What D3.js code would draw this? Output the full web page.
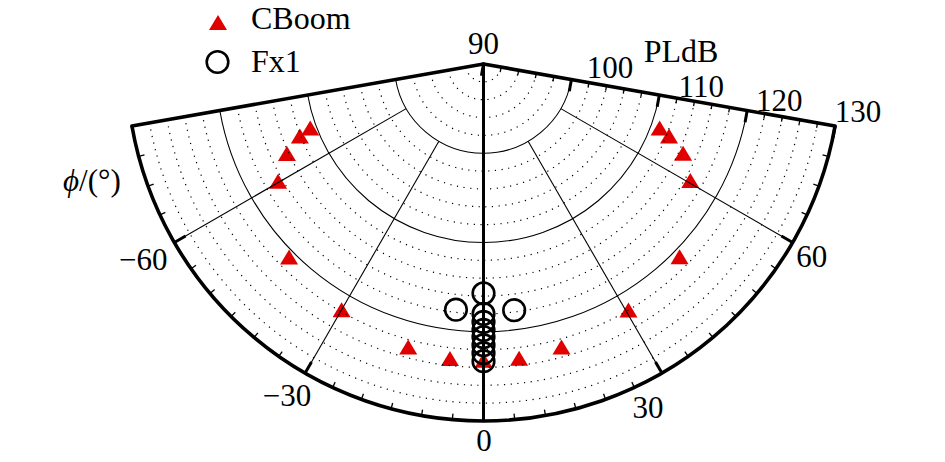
<!DOCTYPE html>
<html><head><meta charset="utf-8">
<script src="https://cdn.jsdelivr.net/npm/d3@7/dist/d3.min.js"></script>
<style>
html,body{margin:0;padding:0;background:#fff;}
svg{display:block;}
text{font-family:"Liberation Serif","Times New Roman",serif;fill:#000;}
</style></head>
<body><svg id="chart" width="945" height="462"></svg>
<script>
// ---- data ----
const cboomPhi   = [-69.7,-68.6,-65.5,-60.3,-45.2,-30.0,-14.9,-6.5,0,6.9,15.4,30.5,45.5,60.6,65.9,68.8,70.0];
const cboomPLdB  = [110.7,112.1,114.2,116.5,120.7,121.8,122.8,123.2,123.2,123.2,122.9,122.0,120.8,116.6,114.5,112.3,111.0];
const fx1Phi     = [0,-6.4,7.1,0,0,0,0,0,0,0];
const fx1PLdB    = [115.7,117.7,117.8,118.0,118.9,119.8,120.6,121.5,122.4,123.3];
const radialTicks = [90,100,110,120,130];
const angleTicks  = [-60,-30,0,30,60];
const angleLabels = ["\u221260","\u221230","0","30","60"];
const seriesNames = ["CBoom","Fx1"];

// ---- layout ----
const svg = d3.select("#chart");
const cx = 483.5, cy = 64, R = 357;
const rScale = d3.scaleLinear().domain([90,130]).range([0,R]);
const aScale = d3.scaleLinear().domain([-80,80]).range([-80*Math.PI/180, 80*Math.PI/180]);
const px = (phi,v)=>cx + rScale(v)*Math.sin(aScale(phi));
const py = (phi,v)=>cy + rScale(v)*Math.cos(aScale(phi));
const red = "#e00000";

function arcPath(r){
  const p = d3.path();
  const a0 = Math.PI/2 - aScale(-80), a1 = Math.PI/2 - aScale(80);
  p.moveTo(cx + r*Math.cos(a0), cy + r*Math.sin(a0));
  p.arc(cx, cy, r, a0, a1, true);
  return p.toString();
}

// ---- markers (below grid) ----
const tri = d3.symbol().type({draw(ctx){ctx.moveTo(0,-7.5);ctx.lineTo(9,7.5);ctx.lineTo(-9,7.5);ctx.closePath();}})();
svg.append("g").selectAll("path").data(cboomPhi.map((p,i)=>[p,cboomPLdB[i]])).join("path")
  .attr("d",tri).attr("fill",red)
  .attr("transform",d=>`translate(${px(d[0],d[1])},${py(d[0],d[1])})`);

// ---- grid ----
const g = svg.append("g");
d3.range(92,130,2).filter(v=>v%10!==0).forEach(v=>{
  g.append("path").attr("d",arcPath(rScale(v))).attr("fill","none")
   .attr("stroke","#000").attr("stroke-width",1.2).attr("stroke-dasharray","1.2,5.5");
});
[100,110,120].forEach(v=>{
  g.append("path").attr("d",arcPath(rScale(v))).attr("fill","none")
   .attr("stroke","#000").attr("stroke-width",1.1);
});
[-60,-30,30,60].forEach(a=>{
  g.append("line").attr("x1",px(a,100)).attr("y1",py(a,100)).attr("x2",px(a,130)).attr("y2",py(a,130))
   .attr("stroke","#000").attr("stroke-width",1.1);
});

// Fx1 circles
svg.append("g").selectAll("circle").data(fx1Phi.map((p,i)=>[p,fx1PLdB[i]])).join("circle")
  .attr("cx",d=>px(d[0],d[1])).attr("cy",d=>py(d[0],d[1])).attr("r",10.8)
  .attr("fill","none").attr("stroke","#000").attr("stroke-width",2.6);

// 0 axis
svg.append("line").attr("x1",px(0,90)).attr("y1",py(0,90)).attr("x2",px(0,130)).attr("y2",py(0,130))
  .attr("stroke","#000").attr("stroke-width",3);
// outer arc
svg.append("path").attr("d",arcPath(R)).attr("fill","none").attr("stroke","#000").attr("stroke-width",3.6);
// edges
[-80,80].forEach(a=>{
  svg.append("line").attr("x1",cx).attr("y1",cy).attr("x2",px(a,130)).attr("y2",py(a,130))
   .attr("stroke","#000").attr("stroke-width",3.6).attr("stroke-linecap","round");
});
// outer arc ticks
d3.range(-75,80,5).forEach(a=>{
  const major = a%30===0;
  const L = major?13:6;
  const t = aScale(a);
  svg.append("line")
    .attr("x1",cx+R*Math.sin(t)).attr("y1",cy+R*Math.cos(t))
    .attr("x2",cx+(R-L)*Math.sin(t)).attr("y2",cy+(R-L)*Math.cos(t))
    .attr("stroke","#000").attr("stroke-width",major?3:1.3);
});
// radial-axis ticks on the +80 edge
const eA = aScale(80);
const ux = Math.sin(eA), uy = Math.cos(eA);
const nx = -Math.cos(eA), ny = Math.sin(eA);
d3.range(90,131,2).forEach(v=>{
  const major = v%10===0;
  const L = major?12:5;
  const x0 = px(80,v), y0 = py(80,v);
  svg.append("line").attr("x1",x0).attr("y1",y0).attr("x2",x0+L*nx).attr("y2",y0+L*ny)
    .attr("stroke","#000").attr("stroke-width",major?3:1.3);
});

// ---- labels ----
const fs = 31;
const radOffU = [0,36,40,30,20];
const radOffN = [10,18,15,15,18];
radialTicks.forEach((v,i)=>{
  const x0 = px(80,v), y0 = py(80,v);
  let x, y;
  if(v===90){ x = cx; y = cy - 10; }
  else { x = x0 + radOffU[i]*ux - radOffN[i]*nx; y = y0 + radOffU[i]*uy - radOffN[i]*ny + 10; }
  svg.append("text").attr("x",x).attr("y",y).attr("text-anchor","middle").attr("font-size",fs).text(v);
});
svg.append("text").attr("x",681).attr("y",62).attr("text-anchor","middle").attr("font-size",32).text("PLdB");

const angOff = [[-31,27.5],[-18,33],[0.5,30],[-14,45],[19,24.5]];
angleTicks.forEach((a,i)=>{
  svg.append("text").attr("x",px(a,130)+angOff[i][0]).attr("y",py(a,130)+angOff[i][1])
    .attr("text-anchor","middle").attr("font-size",fs).text(angleLabels[i]);
});
const ax = svg.append("text").attr("x",63).attr("y",191).attr("font-size",fs);
ax.append("tspan").attr("font-style","italic").text("\u03D5");
ax.append("tspan").text("/(\u00B0)");

// ---- legend ----
svg.append("path").attr("d",tri).attr("fill",red).attr("transform","translate(218,22.5)");
svg.append("circle").attr("cx",217.5).attr("cy",62).attr("r",10.8).attr("fill","none").attr("stroke","#000").attr("stroke-width",2.6);
svg.append("text").attr("x",251).attr("y",28.5).attr("font-size",32).text(seriesNames[0]);
svg.append("text").attr("x",251).attr("y",72).attr("font-size",32).text(seriesNames[1]);
</script></body></html>
